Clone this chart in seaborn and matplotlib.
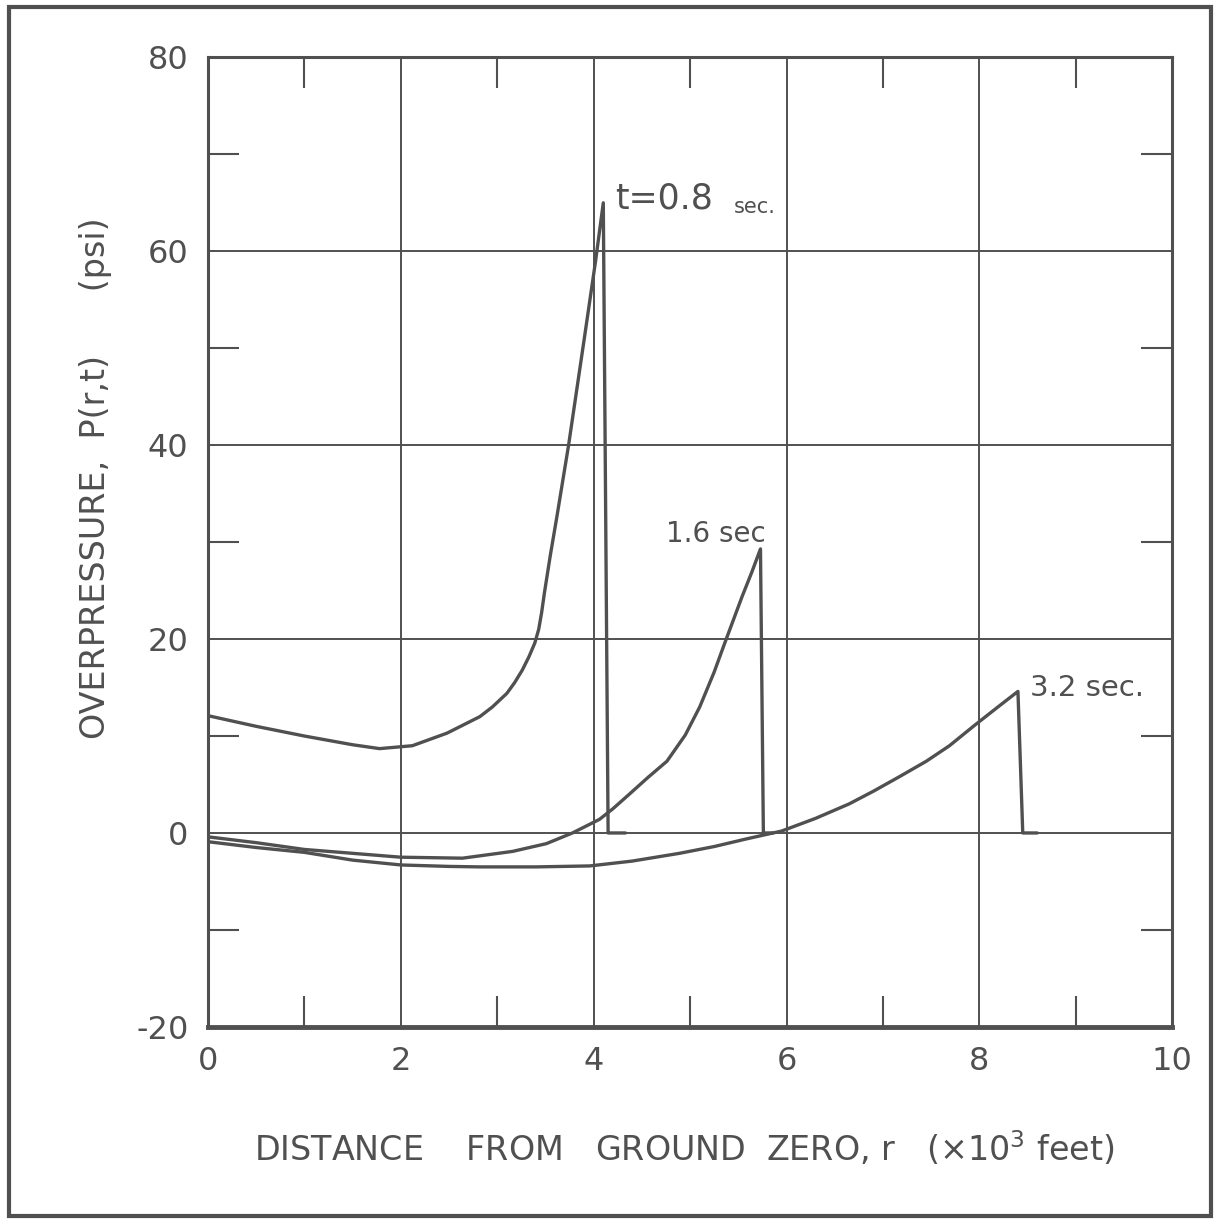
import matplotlib
matplotlib.use("Agg")
import matplotlib.pyplot as plt
import seaborn as sns
import pandas as pd
from matplotlib.patches import Rectangle

# ---- data ----
r_08 = [0.0, 0.5, 1.0, 1.5, 1.78, 2.12, 2.48, 2.82, 2.95, 3.10, 3.18, 3.26, 3.33,
        3.39, 3.43, 3.46, 3.49, 3.55, 3.62, 3.74, 3.90, 4.02, 4.10, 4.15, 4.33]
p_08 = [12.1, 11.0, 10.0, 9.1, 8.7, 9.0, 10.3, 12.0, 13.0, 14.4, 15.5, 16.8, 18.2,
        19.6, 21.0, 22.7, 24.8, 28.6, 32.7, 40.0, 50.8, 59.0, 65.0, 0.0, 0.0]

r_16 = [0.0, 0.5, 1.0, 1.5, 2.0, 2.64, 3.16, 3.51, 3.78, 4.06, 4.20, 4.37, 4.56,
        4.76, 4.95, 5.10, 5.25, 5.36, 5.45, 5.54, 5.64, 5.73, 5.76, 5.86]
p_16 = [-0.4, -1.0, -1.7, -2.1, -2.5, -2.6, -1.9, -1.1, 0.0, 1.4, 2.5, 4.0, 5.7,
        7.4, 10.1, 13.0, 16.6, 19.6, 22.0, 24.4, 26.9, 29.3, 0.0, 0.0]

r_32 = [0.0, 0.5, 1.0, 1.5, 2.0, 2.5, 2.82, 3.4, 3.96, 4.4, 4.89, 5.25, 5.59, 5.95,
        6.3, 6.65, 6.9, 7.17, 7.45, 7.69, 7.95, 8.18, 8.40, 8.45, 8.60]
p_32 = [-0.9, -1.5, -2.0, -2.8, -3.3, -3.45, -3.5, -3.5, -3.4, -2.9, -2.1, -1.4,
        -0.6, 0.2, 1.5, 3.0, 4.3, 5.8, 7.4, 9.0, 11.1, 12.9, 14.6, 0.0, 0.0]

x_ticks = [0, 2, 4, 6, 8, 10]
x_minor = [1, 3, 5, 7, 9]
y_ticks = [-20, 0, 20, 40, 60, 80]
y_minor = [-10, 10, 30, 50, 70]

series_labels = ["t=0.8", "1.6 sec", "3.2 sec."]

df = pd.concat([
    pd.DataFrame({"r": r_08, "p": p_08, "t": "0.8"}),
    pd.DataFrame({"r": r_16, "p": p_16, "t": "1.6"}),
    pd.DataFrame({"r": r_32, "p": p_32, "t": "3.2"}),
])

sns.set_style("white")
plt.rcParams["font.family"] = ["DejaVu Sans"]

INK = "#505050"

fig = plt.figure(figsize=(12.16, 12.21), dpi=100)
ax = fig.add_axes([0.171, 0.159, 0.793, 0.794])

for key in ["0.8", "1.6", "3.2"]:
    sub = df[df["t"] == key]
    sns.lineplot(data=sub, x="r", y="p", ax=ax, color=INK, linewidth=2.4,
                 estimator=None, sort=False, legend=False)

ax.set_xlim(0, 10)
ax.set_ylim(-20, 80)
ax.set_xticks(x_ticks)
ax.set_xticks(x_minor, minor=True)
ax.set_yticks(y_ticks)
ax.set_yticks(y_minor, minor=True)
ax.set_xticklabels([str(v) for v in x_ticks])
ax.set_yticklabels([str(v) for v in y_ticks])

ax.grid(True, which="major", color=INK, linewidth=1.4)
ax.tick_params(which="major", length=0, labelsize=23, labelcolor=INK)
ax.tick_params(axis="x", which="major", pad=14)
ax.tick_params(axis="y", which="major", pad=14)
ax.tick_params(which="minor", direction="in", length=22, width=1.5, color=INK,
               top=True, bottom=True, left=True, right=True)

for side in ["left", "top", "right"]:
    ax.spines[side].set_color(INK)
    ax.spines[side].set_linewidth(2.2)
ax.spines["bottom"].set_color(INK)
ax.spines["bottom"].set_linewidth(3.5)

ax.set_xlabel("DISTANCE    FROM   GROUND  ZERO, r   (×10$^3$ feet)",
              fontsize=24, color=INK)
ax.xaxis.set_label_coords(0.494, -0.106)
ax.set_ylabel("OVERPRESSURE,  P(r,t)      (psi)", fontsize=24, color=INK)
ax.yaxis.set_label_coords(-0.100, 0.566)

ax.text(4.22, 65.4, series_labels[0], fontsize=25, color=INK, va="center", ha="left")
ax.text(5.45, 64.6, "sec.", fontsize=15, color=INK, va="center", ha="left")
ax.text(5.27, 30.8, series_labels[1], fontsize=20, color=INK, va="center", ha="center")
ax.text(8.52, 15.0, series_labels[2], fontsize=21, color=INK, va="center", ha="left")

fig.patches.append(Rectangle((0.007, 0.004), 0.989, 0.99, transform=fig.transFigure,
                             fill=False, edgecolor=INK, linewidth=3))

fig.savefig("out.png", dpi=100, facecolor="white")
